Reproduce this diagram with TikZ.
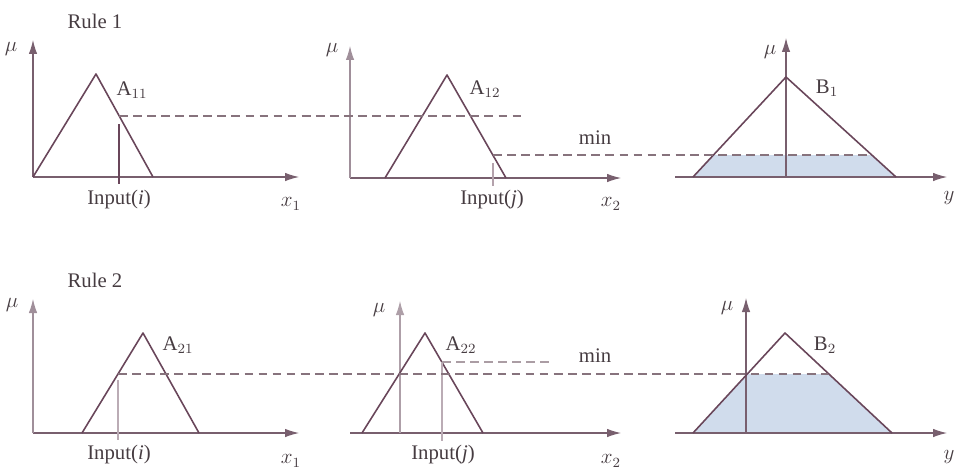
\documentclass[tikz,border=0pt]{standalone}
\usepackage{fontspec}
\setmainfont{Liberation Serif}
\usepackage{tikz}
\usetikzlibrary{arrows.meta, positioning, calc}
\definecolor{cLine}{RGB}{105,70,90}
\definecolor{cAxis}{RGB}{120,95,110}
\definecolor{cDash}{RGB}{135,115,125}
\definecolor{cFill}{RGB}{208,220,236}
\definecolor{cText}{RGB}{70,60,65}
\tikzset{
	axis/.style ={-{Latex[length=2.8mm,width=1.7mm]}, cAxis, line width=0.6pt},
	mf/.style   ={cLine, line width=0.9pt, line join=round},
	cut/.style  ={cDash, line width=0.6pt, dash pattern=on 5pt off 3pt},
	inp/.style  ={cLine, line width=0.6pt},
	lbl/.style  ={text=cText, font=\fontsize{11.8}{13}\selectfont, inner sep=1pt},
	area/.style ={fill=cFill, draw=none},
}

\begin{document}
\begin{tikzpicture}[x=0.02cm, y=-0.02cm]
	\useasboundingbox (0,0) rectangle (955,470);
	% rule 1
	\coordinate (o11) at (33,177);  \coordinate (y11) at (33,40);  \coordinate (x11) at (299,177);
	\coordinate (o12) at (350,178); \coordinate (y12) at (350,46); \coordinate (x12) at (621,178); \coordinate (s12) at (350,178);
	\coordinate (o13) at (786,177); \coordinate (y13) at (786,38); \coordinate (x13) at (947,177); \coordinate (s13) at (675,177);
	\coordinate (a11l) at (33,177);  \coordinate (a11p) at (96,74);  \coordinate (a11r) at (153,177);
	\coordinate (a12l) at (385,178); \coordinate (a12p) at (447,75); \coordinate (a12r) at (506,178);
	\coordinate (b1l) at (693,177);  \coordinate (b1p) at (786,77);  \coordinate (b1r) at (896,177);
	\coordinate (in1i) at (119,116); \coordinate (in1ig) at (119,124); \coordinate (in1ib) at (119,184);
	\coordinate (in1j) at (493,155); \coordinate (in1jg) at (493,163); \coordinate (in1jb) at (493,186);
	\coordinate (d1e) at (525,116);  \coordinate (m1e) at (872,155);
	% rule 2
	\coordinate (o21) at (33,433);  \coordinate (y21) at (33,299);  \coordinate (x21) at (299,433);
	\coordinate (o22) at (400,433); \coordinate (y22) at (400,301); \coordinate (x22) at (621,433); \coordinate (s22) at (350,433);
	\coordinate (o23) at (746,433); \coordinate (y23) at (746,298); \coordinate (x23) at (947,433); \coordinate (s23) at (675,433);
	\coordinate (a21l) at (82,433);  \coordinate (a21p) at (143,333); \coordinate (a21r) at (199,433);
	\coordinate (a22l) at (362,433); \coordinate (a22p) at (425,333); \coordinate (a22r) at (483,433);
	\coordinate (b2l) at (693,433);  \coordinate (b2p) at (785,333);  \coordinate (b2r) at (892,433);
	\coordinate (in2i) at (118,374); \coordinate (in2ig) at (118,380); \coordinate (in2ib) at (118,440);
	\coordinate (in2j) at (442,362); \coordinate (in2jb) at (442,441);
	\coordinate (d2e) at (828,374);  \coordinate (m2e) at (553,362);

	% clipped output areas
	\begin{scope}
		\clip (b1l) -- (b1p) -- (b1r) -- cycle;
		\fill[area] (680,155) rectangle (900,177);
	\end{scope}
	\begin{scope}
		\clip (b2l) -- (b2p) -- (b2r) -- cycle;
		\fill[area] (680,374) rectangle (900,433);
	\end{scope}

	% axes
	\draw[axis](o11)--(x11); \draw[axis](o11)--(y11);
	\draw[axis](s12)--(x12); \draw[axis, cAxis!70](o12)--(y12);
	\draw[axis](s13)--(x13); \draw[axis](o13)--(y13);
	\draw[axis](o21)--(x21); \draw[axis, cAxis!70](o21)--(y21);
	\draw[axis](s22)--(x22); \draw[axis, cAxis!60](o22)--(y22);
	\draw[axis](s23)--(x23); \draw[axis](o23)--(y23);

	% membership functions
	\draw[mf](a11l)--(a11p)--(a11r); \draw[mf](a12l)--(a12p)--(a12r); \draw[mf](b1l)--(b1p)--(b1r);
	\draw[mf](a21l)--(a21p)--(a21r); \draw[mf](a22l)--(a22p)--(a22r); \draw[mf](b2l)--(b2p)--(b2r);

	% inputs and cuts
	\draw[inp](in1ig)--(in1ib); \draw[inp, cLine!50](in1jg)--(in1jb);
	\draw[inp, cLine!45](in2ig)--(in2ib);  \draw[inp, cLine!45](in2j)--(in2jb);
	\draw[cut](in1i)--(d1e); \draw[cut](in1j)--(m1e);
	\draw[cut](in2i)--(d2e); \draw[cut, cDash!70](in2j)--(m2e);

	% labels
	\node[lbl] (r1) at (95,21) {Rule 1};
	\node[lbl] (r2) at (95,280) {Rule 2};
	\node[lbl] (mu11) at (11,49) {$\mu$};  \node[lbl] (mu12) at (332,50) {$\mu$}; \node[lbl] (mu13) at (770,52) {$\mu$};
	\node[lbl] (mu21) at (12,305) {$\mu$}; \node[lbl] (mu22) at (379,310) {$\mu$}; \node[lbl] (mu23) at (727,308) {$\mu$};
	\node[lbl] (l11) at (132,90) {A$_{11}$}; \node[lbl] (l12) at (485,89) {A$_{12}$}; \node[lbl] (l13) at (827,88) {B$_1$};
	\node[lbl] (l21) at (178,345) {A$_{21}$}; \node[lbl] (l22) at (461,345) {A$_{22}$}; \node[lbl] (l23) at (825,345) {B$_2$};
	\node[lbl] (min1) at (595,138) {min}; \node[lbl] (min2) at (595,356) {min};
	\node[lbl] (t11) at (119,200) {Input(\textit{i})}; \node[lbl] (t12) at (492,200) {Input(\textit{j})};
	\node[lbl] (t21) at (119,455) {Input(\textit{i})}; \node[lbl] (t22) at (443,455) {Input(\textit{j})};
	\node[lbl] (v11) at (291,204) {$x_1$}; \node[lbl] (v12) at (611,204) {$x_2$}; \node[lbl] (v13) at (949,198) {$y$};
	\node[lbl] (v21) at (291,461) {$x_1$}; \node[lbl] (v22) at (611,461) {$x_2$}; \node[lbl] (v23) at (949,457) {$y$};
\end{tikzpicture}
\end{document}
